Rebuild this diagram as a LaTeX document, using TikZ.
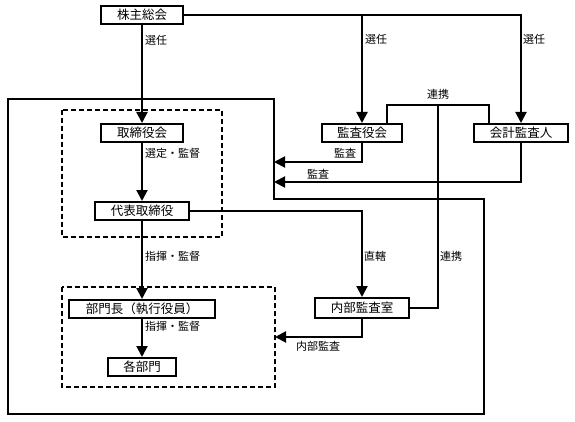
\documentclass[tikz,border=0pt]{standalone}
\usepackage{fontspec}
\newfontfamily\jp{Noto Sans CJK JP}
\usetikzlibrary{arrows.meta}
\begin{document}
\begin{tikzpicture}[x=1pt,y=-1pt,
  box/.style={draw, line width=2pt, inner sep=0pt, fill=white, font=\jp\fontsize{12.5}{13}\selectfont},
  lbl/.style={inner sep=0pt, font=\jp\fontsize{11}{12}\selectfont},
  conn/.style={line width=2pt},
  arr/.style={conn, -{Triangle[width=11pt,length=11pt]}},
  dbox/.style={line width=1.6pt, dash pattern=on 5pt off 3pt}]
\useasboundingbox (0,0) rectangle (575,422);
% outer frame and dashed groups
\draw[conn] (8,99) -- (274,99) -- (274,199) -- (484,199) -- (484,414) -- (8,414) -- cycle;
\draw[dbox] (62,110) rectangle (222,237);
\draw[dbox] (62,287) rectangle (275,387);
% nodes
\node[box, minimum width=82pt, minimum height=18pt] (kabu) at (142,15) {株主総会};
\node[box, minimum width=82pt, minimum height=18pt] (tori) at (142,133) {取締役会};
\node[box, minimum width=94pt, minimum height=18pt] (daihyo) at (142,211) {代表取締役};
\node[box, minimum width=146pt, minimum height=18pt] (bumon) at (142,309) {部門長（執行役員）};
\node[box, minimum width=68pt, minimum height=18pt] (kaku) at (142,367) {各部門};
\node[box, minimum width=80pt, minimum height=18pt] (kansa) at (362,133) {監査役会};
\node[box, minimum width=94pt, minimum height=18pt] (kaikei) at (521,133) {会計監査人};
\node[box, minimum width=94pt, minimum height=20pt] (naibu) at (362,308) {内部監査室};
% coordinates
\coordinate (ren) at (438,105);
\coordinate (a1) at (274,162);
\coordinate (a2) at (274,182);
\coordinate (a3) at (275,337);
% connectors
\draw[arr] (kabu) -- (tori);
\draw[arr] (kabu.east) -| (kaikei.north);
\draw[arr] (kansa.north |- kabu.east) -- (kansa.north);
\draw[arr] (tori) -- (daihyo);
\draw[arr] (daihyo) -- (bumon);
\draw[arr] (bumon) -- (kaku);
\draw[arr] (daihyo.east) -| (naibu.north);
\draw[conn] ([xshift=25pt]kansa.north) |- (ren) -| ([xshift=-32pt]kaikei.north);
\draw[conn] (ren) |- (naibu.east);
\draw[arr] (kansa.south) |- (a1);
\draw[arr] (kaikei.south) |- (a2);
\draw[arr] (naibu.south) |- (a3);
% labels
\node[lbl, anchor=west] at (145,40) {選任};
\node[lbl, anchor=west] at (365,39) {選任};
\node[lbl, anchor=west] at (523,39) {選任};
\node[lbl, anchor=west] at (145,153) {選定・監督};
\node[lbl, anchor=west] at (145,256) {指揮・監督};
\node[lbl, anchor=west] at (145,326) {指揮・監督};
\node[lbl] at (438,94) {連携};
\node[lbl] at (345,153) {監査};
\node[lbl] at (318,174) {監査};
\node[lbl, anchor=west] at (364,256) {直轄};
\node[lbl, anchor=west] at (440,256) {連携};
\node[lbl] at (318,346) {内部監査};
\end{tikzpicture}
\end{document}
